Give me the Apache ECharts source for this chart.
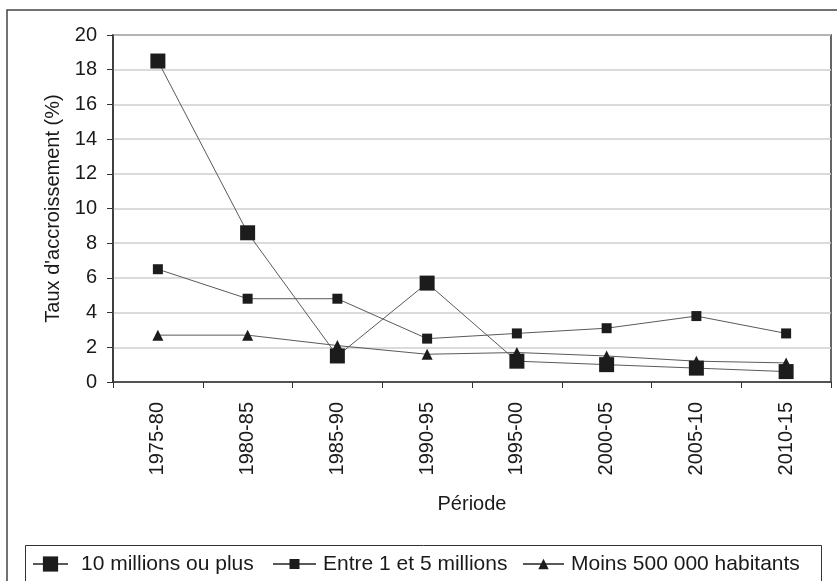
<!DOCTYPE html>
<html>
<head>
<meta charset="utf-8">
<script src="https://cdn.jsdelivr.net/npm/echarts@6/dist/echarts.min.js"></script>
<style>
html,body{margin:0;padding:0;background:#fff;}
#chart{width:837px;height:581px;}
</style>
</head>
<body>
<div id="chart"></div>
<script>
var categories = ['1975-80','1980-85','1985-90','1990-95','1995-00','2000-05','2005-10','2010-15'];
var seriesNames = ['10 millions ou plus','Entre 1 et 5 millions','Moins 500 000 habitants'];
var bigCities = [18.5, 8.6, 1.5, 5.7, 1.2, 1.0, 0.8, 0.6];
var midCities = [6.5, 4.8, 4.8, 2.5, 2.8, 3.1, 3.8, 2.8];
var smallCities = [2.7, 2.7, 2.1, 1.6, 1.7, 1.5, 1.2, 1.1];
var yTicks = {min: 0, max: 20, interval: 2};
var yTitle = "Taux d'accroissement (%)";
var xTitle = 'Période';

var FONT = 'Liberation Sans, Arial, sans-serif';
var markColor = '#1c1c1c';
var lineColor = '#5a5a5a';

var chart = echarts.init(document.getElementById('chart'), null, {renderer: 'canvas'});

function mkLegend(name, left, itemHeight, itemWidth, gap) {
  return {
    data: [name],
    left: left,
    top: 552,
    orient: 'horizontal',
    itemWidth: itemWidth,
    itemHeight: itemHeight,
    itemGap: 0,
    padding: 0,
    selectedMode: false,
    textStyle: {fontFamily: FONT, fontSize: 21, lineHeight: 24, color: '#1a1a1a', padding: [0, 0, 0, gap]}
  };
}

var option = {
  backgroundColor: '#fff',
  animation: false,
  graphic: [
    {type: 'rect', shape: {x: 7, y: 10, width: 900, height: 700}, style: {fill: 'none', stroke: '#444', lineWidth: 1.5}, z: -1},
    {type: 'rect', shape: {x: 25.5, y: 545.5, width: 796, height: 100}, style: {fill: 'none', stroke: '#333', lineWidth: 1}, z: -1}
  ],
  legend: [
    mkLegend(seriesNames[0], 32, 19, 35, 8),
    mkLegend(seriesNames[1], 272, 12.5, 43, 2),
    mkLegend(seriesNames[2], 522, 13, 41, 2)
  ],
  grid: {
    left: 113, top: 35, right: 6, bottom: 199,
    show: true, borderColor: '#333', borderWidth: 1.5, backgroundColor: 'transparent'
  },
  xAxis: {
    type: 'category',
    data: categories,
    boundaryGap: true,
    name: xTitle,
    nameLocation: 'middle',
    nameGap: 112,
    nameTextStyle: {fontFamily: FONT, fontSize: 20, color: '#1a1a1a'},
    axisLine: {lineStyle: {color: '#333', width: 1.5}},
    axisTick: {show: true, alignWithLabel: false, length: 6, lineStyle: {color: '#333', width: 1}},
    axisLabel: {rotate: 90, margin: 20, fontFamily: FONT, fontSize: 20, color: '#1a1a1a', interval: 0},
    splitLine: {show: false}
  },
  yAxis: {
    type: 'value',
    min: yTicks.min, max: yTicks.max, interval: yTicks.interval,
    name: yTitle,
    nameLocation: 'middle',
    nameRotate: 90,
    nameGap: 50,
    nameTextStyle: {fontFamily: FONT, fontSize: 20, color: '#1a1a1a'},
    axisLine: {show: true, lineStyle: {color: '#333', width: 1.5}},
    axisTick: {show: true, length: 6, lineStyle: {color: '#333', width: 1}},
    axisLabel: {margin: 16, fontFamily: FONT, fontSize: 20, color: '#1a1a1a'},
    splitLine: {show: true, lineStyle: {color: '#cfcfcf', width: 1.5}}
  },
  series: [
    {
      name: seriesNames[0], type: 'line', data: bigCities,
      symbol: 'rect', symbolSize: 15, showAllSymbol: true,
      lineStyle: {color: lineColor, width: 1},
      itemStyle: {color: markColor, borderWidth: 0}
    },
    {
      name: seriesNames[1], type: 'line', data: midCities,
      symbol: 'rect', symbolSize: 10, showAllSymbol: true,
      lineStyle: {color: lineColor, width: 1},
      itemStyle: {color: markColor, borderWidth: 0}
    },
    {
      name: seriesNames[2], type: 'line', data: smallCities,
      symbol: 'triangle', symbolSize: 11, showAllSymbol: true,
      lineStyle: {color: lineColor, width: 1},
      itemStyle: {color: markColor, borderWidth: 0}
    }
  ]
};
chart.setOption(option);
</script>
</body>
</html>
